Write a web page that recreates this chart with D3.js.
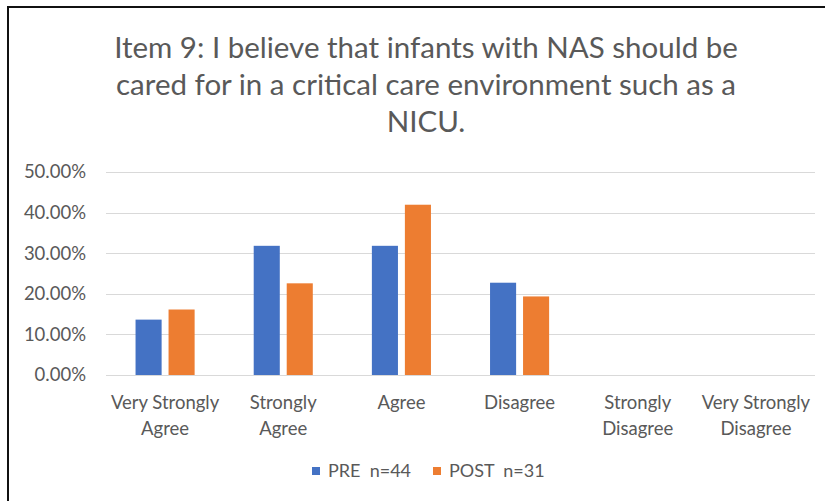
<!DOCTYPE html>
<html>
<head>
<meta charset="utf-8">
<script src="https://cdn.jsdelivr.net/npm/d3@7"></script>
<style>
  html, body { margin: 0; padding: 0; background: #fff; }
  svg { display: block; font-family: Lato, "Open Sans", sans-serif; }
</style>
</head>
<body>
<div id="chart"></div>
<script>
// answer categories along the x axis (two-line labels)
const categories = ["Very Strongly Agree", "Strongly Agree", "Agree", "Disagree", "Strongly Disagree", "Very Strongly Disagree"];
const categoryLines = [["Very Strongly", "Agree"], ["Strongly", "Agree"], ["Agree"], ["Disagree"], ["Strongly", "Disagree"], ["Very Strongly", "Disagree"]];
const seriesNames = ["PRE  n=44", "POST  n=31"];
const preValues = [0.1364, 0.3182, 0.3182, 0.2273, 0, 0];
const postValues = [0.1613, 0.2258, 0.4194, 0.1935, 0, 0];
const yTicks = [0, 0.1, 0.2, 0.3, 0.4, 0.5];
const titleLines = ["Item 9: I believe that infants with NAS should be", "cared for in a critical care environment such as a", "NICU."];

const W = 825, H = 501;
const plot = { left: 106, right: 815, top: 172, bottom: 375 };
const colors = ["#4472C4", "#ED7D31"];
const textColor = "#595959";

const svg = d3.select("#chart").append("svg")
  .attr("width", W).attr("height", H);

// chart frame (cropped on right and bottom)
svg.append("rect")
  .attr("x", 8).attr("y", 7)
  .attr("width", W + 20).attr("height", H + 20)
  .attr("fill", "#fff").attr("stroke", "#111").attr("stroke-width", 2);

// title
svg.append("text")
  .attr("text-anchor", "middle")
  .attr("fill", textColor)
  .attr("font-size", 29.5)
  .selectAll("tspan")
  .data(titleLines)
  .join("tspan")
  .attr("x", 426)
  .attr("y", (d, i) => 58 + i * 37)
  .text(d => d);

const y = d3.scaleLinear().domain([0, 0.5]).range([plot.bottom, plot.top]);
const x0 = d3.scaleBand().domain(categories).range([plot.left, plot.right])
  .paddingInner(0.5).paddingOuter(0.25);
const x1 = d3.scaleBand().domain(seriesNames).range([0, x0.bandwidth()])
  .paddingInner(0.21);

// gridlines
svg.append("g")
  .selectAll("line")
  .data(yTicks)
  .join("line")
  .attr("x1", plot.left).attr("x2", plot.right)
  .attr("y1", d => Math.round(y(d)) + 0.5).attr("y2", d => Math.round(y(d)) + 0.5)
  .attr("stroke", "#d9d9d9").attr("stroke-width", 1.2);

// y axis labels
const yAxis = svg.append("g")
  .attr("transform", `translate(${plot.left - 20},0)`)
  .call(d3.axisLeft(y).tickValues(yTicks).tickFormat(d3.format(".2%")).tickSize(0).tickPadding(0));
yAxis.select(".domain").remove();
yAxis.selectAll("text")
  .attr("fill", textColor)
  .attr("font-size", 18.5)
  .attr("font-family", "Lato, sans-serif");

// bars
const rows = categories.map((c, i) => ({ cat: c, vals: [preValues[i], postValues[i]] }));
svg.append("g")
  .selectAll("g")
  .data(rows)
  .join("g")
  .attr("transform", d => `translate(${x0(d.cat)},0)`)
  .selectAll("rect")
  .data(d => d.vals.map((v, j) => ({ s: seriesNames[j], v, j })))
  .join("rect")
  .attr("x", d => x1(d.s))
  .attr("width", x1.bandwidth())
  .attr("y", d => y(d.v))
  .attr("height", d => y(0) - y(d.v))
  .attr("fill", d => colors[d.j]);

// x axis labels
svg.append("g")
  .selectAll("text")
  .data(categories)
  .join("text")
  .attr("text-anchor", "middle")
  .attr("fill", textColor)
  .attr("font-size", 18.5)
  .each(function (d, i) {
    d3.select(this).selectAll("tspan")
      .data(categoryLines[i])
      .join("tspan")
      .attr("x", x0(d) + x0.bandwidth() / 2)
      .attr("y", (t, k) => 409 + k * 26)
      .text(t => t);
  });

// legend
const legendX = [312, 433];
const legend = svg.append("g")
  .selectAll("g")
  .data(seriesNames)
  .join("g")
  .attr("transform", (d, i) => `translate(${legendX[i]},467)`);
legend.append("rect")
  .attr("width", 8).attr("height", 8)
  .attr("fill", (d, i) => colors[i]);
legend.append("text")
  .attr("x", 16).attr("y", 10)
  .attr("fill", textColor)
  .attr("font-size", 18)
  .attr("xml:space", "preserve")
  .style("white-space", "pre")
  .text(d => d);
</script>
</body>
</html>
